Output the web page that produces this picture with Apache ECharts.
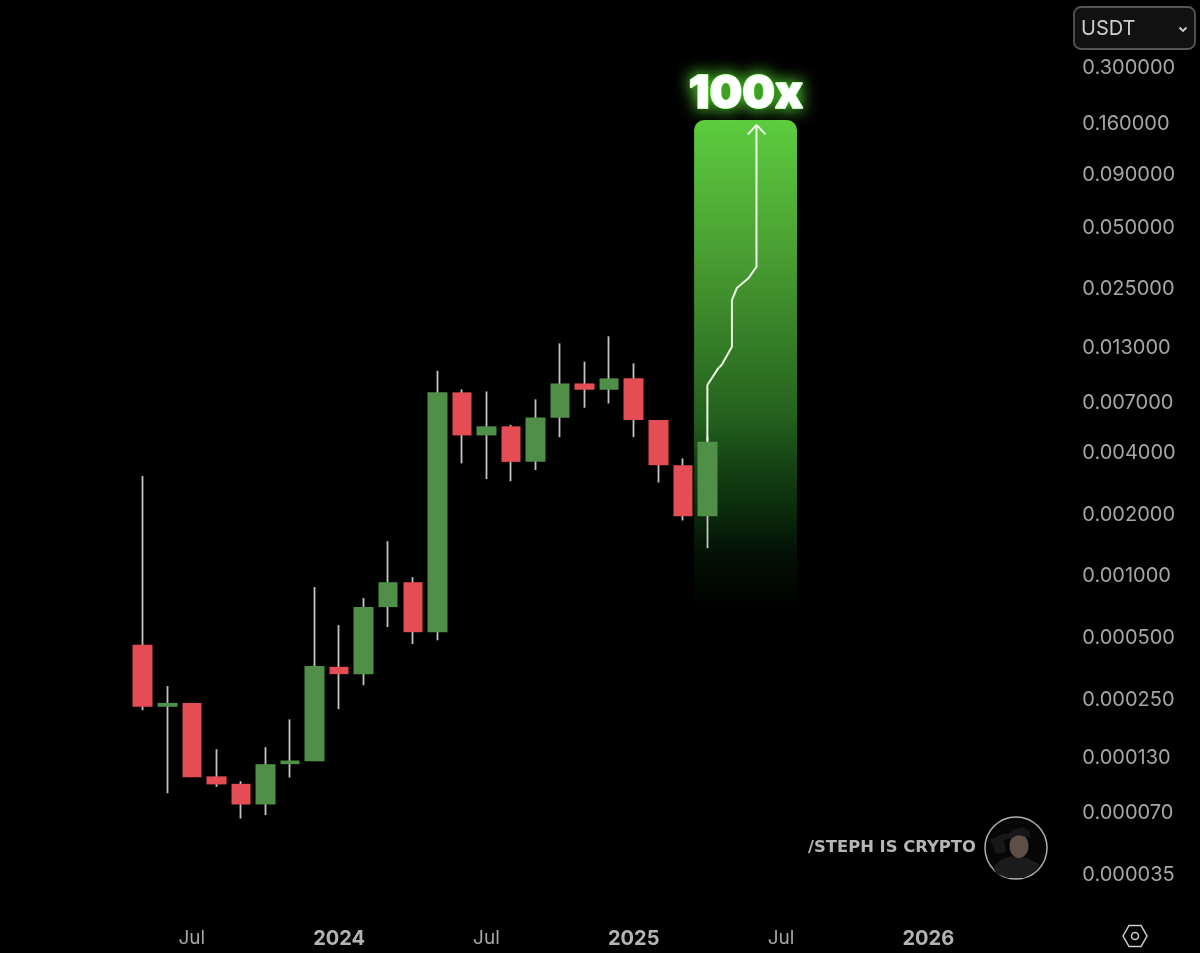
<!DOCTYPE html>
<html>
<head>
<meta charset="utf-8">
<style>
  html, body { margin: 0; padding: 0; background: #000; }
  #chart { width: 1200px; height: 953px; }
</style>
<script src="https://cdn.jsdelivr.net/npm/echarts@6/dist/echarts.min.js"></script>
</head>
<body>
<div id="chart"></div>
<script>
// months on the time axis, the chart leaves room on both sides of the candles
const categories = [
  '2022-12',
  '2023-01', '2023-02', '2023-03', '2023-04', '2023-05', '2023-06', '2023-07', '2023-08', '2023-09', '2023-10', '2023-11', '2023-12',
  '2024-01', '2024-02', '2024-03', '2024-04', '2024-05', '2024-06', '2024-07', '2024-08', '2024-09', '2024-10', '2024-11', '2024-12',
  '2025-01', '2025-02', '2025-03', '2025-04', '2025-05', '2025-06', '2025-07', '2025-08', '2025-09', '2025-10', '2025-11', '2025-12',
  '2026-01', '2026-02', '2026-03', '2026-04', '2026-05', '2026-06'
];
const tickMonths = ['2023-07', '2024-01', '2024-07', '2025-01', '2025-07', '2026-01'];
const tickLabels = ['Jul', '2024', 'Jul', '2025', 'Jul', '2026'];
const priceTicks = [0.3, 0.16, 0.09, 0.05, 0.025, 0.013, 0.007, 0.004, 0.002, 0.001, 0.0005, 0.00025, 0.00013, 0.00007, 0.000035];

const candleMonths = [
  '2023-05', '2023-06', '2023-07', '2023-08', '2023-09', '2023-10', '2023-11', '2023-12',
  '2024-01', '2024-02', '2024-03', '2024-04', '2024-05', '2024-06', '2024-07', '2024-08', '2024-09', '2024-10', '2024-11', '2024-12',
  '2025-01', '2025-02', '2025-03', '2025-04'
];
const opens = [0.000454, 0.000226, 0.000236, 0.0001035, 0.0000952, 0.0000755, 0.0001187, 0.0001228,
  0.000354, 0.000326, 0.000692, 0.000915, 0.000522, 0.0077, 0.00475, 0.00526, 0.00353, 0.00579, 0.00851, 0.00793,
  0.00901, 0.00564, 0.0034, 0.00192];
const closes = [0.000226, 0.000236, 0.0001026, 0.0000946, 0.0000755, 0.0001187, 0.0001237, 0.000357,
  0.000326, 0.000692, 0.000915, 0.000522, 0.0077, 0.00475, 0.00526, 0.00353, 0.00581, 0.00851, 0.00793, 0.00901,
  0.00564, 0.0034, 0.00192, 0.00442];
const lows = [0.0002176, 0.0000857, 0.0001026, 0.000092, 0.0000645, 0.000067, 0.0001022, 0.0001228,
  0.00022, 0.000288, 0.000553, 0.000457, 0.000477, 0.00347, 0.00291, 0.00284, 0.00322, 0.00466, 0.00648, 0.0068,
  0.00466, 0.0028, 0.00183, 0.00134];
const highs = [0.00301, 0.000285, 0.000236, 0.0001404, 0.0000981, 0.0001436, 0.0001962, 0.000866,
  0.000565, 0.000765, 0.001449, 0.000968, 0.00981, 0.00796, 0.00778, 0.00535, 0.00712, 0.01334, 0.01086, 0.01444,
  0.01066, 0.00564, 0.00367, 0.00468];

// projected path, x is a month position on the same axis as the candles
const pathX = [28, 28, 28.44, 28.58, 29, 29, 29.2, 29.67, 30, 30];
const pathY = [0.00442, 0.00836, 0.01008, 0.01046, 0.01284, 0.02169, 0.02482, 0.02768, 0.03153, 0.1547];
const arrowX = [29.65, 30, 30.37];
const arrowY = [0.1393, 0.1547, 0.1393];
const bandX = [27.46, 31.65];
const bandY = [0.1636, 0.00067];
const badgeAt = [29.57, 0.2175];

const GRID_LEFT = 7.7, GRID_WIDTH = 1055.65, GRID_TOP = 66, GRID_HEIGHT = 807;

function candleRows(rowFn) {
  return categories.map(function (m) {
    const i = candleMonths.indexOf(m);
    return i < 0 ? '-' : rowFn(i);
  });
}

function badgeSeries(z, label) {
  return {
    type: 'scatter',
    xAxisIndex: 1,
    z: z,
    silent: true,
    symbolSize: 1,
    itemStyle: { color: 'transparent', opacity: 1 },
    data: [badgeAt],
    label: Object.assign({
      show: true,
      position: 'inside',
      formatter: '100x',
      color: '#fff',
      opacity: 1,
      fontFamily: 'Inter',
      fontWeight: 900,
      fontSize: 46
    }, label)
  };
}

const chart = echarts.init(document.getElementById('chart'));

chart.setOption({
  backgroundColor: '#000',
  animation: false,
  grid: { left: GRID_LEFT, width: GRID_WIDTH, top: GRID_TOP, height: GRID_HEIGHT },
  xAxis: [
    {
      type: 'category',
      data: categories,
      axisLine: { show: false },
      axisTick: { show: false },
      splitLine: { show: false },
      axisLabel: {
        margin: 56,
        color: '#a6a6a6',
        fontFamily: 'Inter',
        fontSize: 19,
        interval: function (idx, val) { return tickMonths.indexOf(val) >= 0; },
        formatter: function (val) {
          const label = tickLabels[tickMonths.indexOf(val)];
          return /^\d/.test(label) ? '{year|' + label + '}' : label;
        },
        rich: {
          year: { color: '#b4b4b4', fontFamily: 'Inter', fontSize: 20, fontWeight: 700 }
        }
      }
    },
    { type: 'value', show: false, min: -0.5, max: 42.5 }
  ],
  yAxis: {
    type: 'log',
    position: 'right',
    min: 0.000035,
    max: 0.3,
    axisLine: { show: false },
    axisTick: { show: false },
    splitLine: { show: false },
    axisLabel: {
      customValues: priceTicks,
      margin: 19,
      showMinLabel: true,
      showMaxLabel: true,
      formatter: function (v) { return '{p|' + Number(v).toFixed(6) + '}'; },
      rich: {
        p: { color: '#a6a6a6', fontFamily: 'Inter', fontSize: 20, padding: [4, 0, 0, 0] }
      }
    }
  },
  series: [
    {
      // green target band
      type: 'custom',
      xAxisIndex: 1,
      z: 1,
      silent: true,
      data: [[bandX[0], bandY[0], bandX[1], bandY[1]]],
      renderItem: function (params, api) {
        const a = api.coord([api.value(0), api.value(1)]);
        const b = api.coord([api.value(2), api.value(3)]);
        return {
          type: 'rect',
          shape: { x: a[0], y: a[1], width: b[0] - a[0], height: b[1] - a[1], r: [10, 10, 0, 0] },
          style: {
            fill: new echarts.graphic.LinearGradient(0, 0, 0, 1, [
              { offset: 0, color: '#5dcc3f' },
              { offset: 0.27, color: '#4a9f32' },
              { offset: 0.61, color: '#23601d' },
              { offset: 0.68, color: '#184a16' },
              { offset: 0.78, color: '#0c2f0d' },
              { offset: 0.88, color: '#031204' },
              { offset: 1, color: '#000' }
            ])
          }
        };
      }
    },
    {
      // wicks, thin grey candle under the coloured bodies
      type: 'candlestick',
      z: 3,
      silent: true,
      barWidth: 1,
      data: candleRows(function (i) { return [opens[i], closes[i], lows[i], highs[i]]; }),
      itemStyle: { color: '#c4c4c4', color0: '#c4c4c4', borderColor: '#c4c4c4', borderColor0: '#c4c4c4', borderWidth: 1.8 }
    },
    {
      type: 'candlestick',
      z: 4,
      silent: true,
      barWidth: 20,
      data: candleRows(function (i) {
        return [opens[i], closes[i], Math.min(opens[i], closes[i]), Math.max(opens[i], closes[i])];
      }),
      itemStyle: { color: '#4f8f47', color0: '#e54d55', borderColor: '#4f8f47', borderColor0: '#e54d55', borderWidth: 0 }
    },
    {
      type: 'line',
      xAxisIndex: 1,
      z: 5,
      silent: true,
      showSymbol: false,
      data: pathX.map(function (x, i) { return [x, pathY[i]]; }),
      lineStyle: { color: '#eef8e8', width: 2 }
    },
    {
      type: 'line',
      xAxisIndex: 1,
      z: 5,
      silent: true,
      showSymbol: false,
      data: arrowX.map(function (x, i) { return [x, arrowY[i]]; }),
      lineStyle: { color: '#eef8e8', width: 2 }
    },
    // glow below, clean white text on top
    badgeSeries(6, { color: '#7dff55', textBorderColor: '#7dff55', textBorderWidth: 2, textShadowColor: '#62f03c', textShadowBlur: 16 }),
    badgeSeries(7, { textBorderColor: '#fff', textBorderWidth: 1 })
  ],
  graphic: [
    // currency selector
    { type: 'rect', shape: { x: 1074, y: 7, width: 121, height: 42, r: 7 }, style: { fill: '#111', stroke: '#555', lineWidth: 1.8 } },
    { type: 'text', style: { x: 1081, y: 29, text: 'USDT', fill: '#cfcfcf', font: '20px Inter', textVerticalAlign: 'middle' } },
    { type: 'polyline', shape: { points: [[1179.5, 27.5], [1183, 31], [1186.5, 27.5]] }, style: { stroke: '#cfcfcf', lineWidth: 1.8, fill: null } },
    // watermark
    { type: 'text', style: { x: 808, y: 848, text: '/STEPH IS CRYPTO', fill: '#b5b5b5', font: '800 16.4px "DejaVu Sans"', textVerticalAlign: 'middle' } },
    { type: 'circle', shape: { cx: 1016, cy: 848, r: 31 }, style: { fill: '#060606', stroke: '#b0b0b0', lineWidth: 1.5 } },
    { type: 'polygon', shape: { points: [[993, 868], [1000, 860], [1012, 856], [1028, 858], [1039, 864], [1036, 871], [1024, 878], [1008, 878], [997, 874]] }, style: { fill: '#1b1b1b' } },
    { type: 'ellipse', shape: { cx: 1019, cy: 846, rx: 9.5, ry: 12 }, style: { fill: '#5e4f46' } },
    { type: 'polygon', shape: { points: [[1007, 836], [1012, 830], [1022, 827], [1030, 831], [1030, 838], [1018, 835], [1010, 839]] }, style: { fill: '#15151a' } },
    { type: 'polygon', shape: { points: [[990, 840], [1002, 834], [1012, 833], [1012, 838], [1004, 840], [1006, 852], [996, 854]] }, style: { fill: '#171717' } },
    // settings icon
    { type: 'polygon', shape: { points: [[1123, 936], [1129, 925.5], [1141, 925.5], [1147, 936], [1141, 946.5], [1129, 946.5]] }, style: { fill: null, stroke: '#cfcfcf', lineWidth: 1.5 } },
    { type: 'circle', shape: { cx: 1135, cy: 936, r: 3.5 }, style: { fill: null, stroke: '#cfcfcf', lineWidth: 1.5 } }
  ]
});
</script>
</body>
</html>
